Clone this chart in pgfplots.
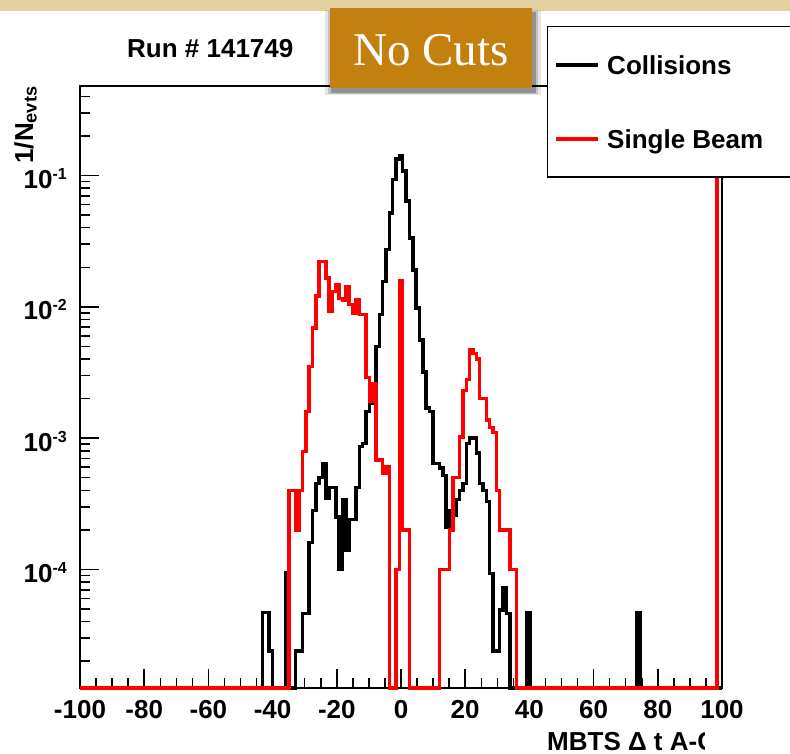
\documentclass[border=0pt]{standalone}
\usepackage{fontspec}
\setmainfont{Liberation Sans}
\newfontfamily\nocutsfont{Liberation Serif}
\usepackage{pgfplots}
\pgfplotsset{compat=1.18}
\usepackage{pgfplotstable}
\usetikzlibrary{shadows}

\definecolor{parch}{RGB}{226,208,160}
\definecolor{nocuts}{RGB}{196,128,14}
\newcommand{\rootfont}{\bfseries\fontsize{26}{28}\selectfont}
\newcommand{\expo}[1]{10\raisebox{9pt}{\fontsize{16}{16}\selectfont #1}}

% bin left edge, content (1.25e-5 = empty bin, drawn on the frame)
\pgfplotstableread{
x y
-100 1.25e-5
-43.21 4.7e-5
-42.17 4.7e-5
-41.13 2.4e-5
-40.08 1.25e-5
-35.92 9.5e-5
-34.88 1.25e-5
-32.79 2.4e-5
-31.75 2.4e-5
-30.71 4.6e-5
-29.67 4.6e-5
-28.63 1.6e-4
-27.58 2.8e-4
-26.54 4.5e-4
-25.50 5.0e-4
-24.46 6.4e-4
-23.42 3.5e-4
-22.38 4.2e-4
-21.33 4.2e-4
-20.29 2.5e-4
-19.25 1.0e-4
-18.21 3.4e-4
-17.17 1.4e-4
-16.13 2.4e-4
-15.08 2.4e-4
-14.04 4.2e-4
-13.00 8.6e-4
-11.96 9.1e-4
-10.92 1.6e-3
-9.88 1.85e-3
-8.83 2.6e-3
-7.79 5.0e-3
-6.75 8.7e-3
-5.71 1.56e-2
-4.67 2.72e-2
-3.63 5.2e-2
-2.58 9.3e-2
-1.54 0.134
-0.50 0.142
0.54 0.108
1.58 0.0637
2.63 0.0334
3.67 0.0191
4.71 0.0098
5.75 0.0056
6.79 0.0032
7.83 0.0017
8.88 0.0016
9.92 6.4e-4
10.96 6.4e-4
12.00 5.9e-4
13.04 5.2e-4
14.08 2.1e-4
15.13 2.8e-4
16.17 2.6e-4
17.21 3.4e-4
18.25 4.0e-4
19.29 4.5e-4
20.33 9.1e-4
21.38 1.0e-3
22.42 1.0e-3
23.46 7.7e-4
24.50 4.5e-4
25.54 4.0e-4
26.58 3.3e-4
27.63 9.3e-5
28.67 2.4e-5
29.71 2.4e-5
30.75 4.9e-5
31.79 7.3e-5
32.83 4.6e-5
33.88 1.25e-5
39.08 4.7e-5
40.13 1.25e-5
73.46 4.7e-5
74.50 1.25e-5
100 1.25e-5
}\collisions

\pgfplotstableread{
x y
-100 1.25e-5
-34.88 4.0e-4
-33.83 4.0e-4
-32.79 2.0e-4
-31.75 4.0e-4
-30.71 7.9e-4
-29.67 1.6e-3
-28.63 3.5e-3
-27.58 6.9e-3
-26.54 0.0121
-25.50 0.0222
-24.46 0.0222
-23.42 0.0166
-22.38 0.0092
-21.33 0.0131
-20.29 0.0147
-19.25 0.0116
-18.21 0.0113
-17.17 0.0143
-16.13 0.0104
-15.08 0.0090
-14.04 0.0113
-13.00 0.0087
-11.96 0.0087
-10.92 2.9e-3
-9.88 1.9e-3
-8.83 2.6e-3
-7.79 6.8e-4
-6.75 6.8e-4
-5.71 5.4e-4
-4.67 6.0e-4
-3.63 1.25e-5
-1.54 1.0e-4
-0.50 0.0159
0.54 2.0e-4
1.58 2.0e-4
2.63 1.25e-5
12.00 1.0e-4
13.04 1.0e-4
14.08 1.0e-4
15.13 2.0e-4
16.17 5.0e-4
17.21 5.0e-4
18.25 1.02e-3
19.29 2.3e-3
20.33 2.8e-3
21.38 4.7e-3
22.42 4.4e-3
23.46 4.0e-3
24.50 2.0e-3
25.54 2.0e-3
26.58 1.37e-3
27.63 1.2e-3
28.67 1.1e-3
29.71 4.0e-4
30.75 2.0e-4
31.79 2.0e-4
32.83 2.0e-4
33.88 1.0e-4
34.92 1.0e-4
35.96 1.25e-5
98.46 0.48
100 0.48
}\singlebeam

\begin{document}
\begin{tikzpicture}
\useasboundingbox (0pt,0pt) rectangle (790pt,-754pt);
\clip (0pt,0pt) rectangle (790pt,-754pt);
\fill[white] (0pt,0pt) rectangle (790pt,-754pt);
\fill[parch] (0pt,0pt) rectangle (790pt,-11pt);
\begin{axis}[
  at={(80pt,-688pt)}, anchor=south west,
  scale only axis, width=642pt, height=602pt,
  xmin=-100, xmax=100,
  ymode=log, ymin=1.25e-5, ymax=0.48,
  clip=false,
  axis line style={line width=1.5pt},
  xtick={-100,-80,...,100},
  xticklabels={-100,-80,-60,-40,-20,0,20,40,60,80,100},
  minor x tick num=3,
  ytick={1e-4,1e-3,1e-2,1e-1},
  yticklabels={\expo{-4},\expo{-3},\expo{-2},\expo{-1}},
  minor ytick={2e-5,3e-5,4e-5,5e-5,6e-5,7e-5,8e-5,9e-5,
               2e-4,3e-4,4e-4,5e-4,6e-4,7e-4,8e-4,9e-4,
               2e-3,3e-3,4e-3,5e-3,6e-3,7e-3,8e-3,9e-3,
               2e-2,3e-2,4e-2,5e-2,6e-2,7e-2,8e-2,9e-2,
               2e-1,3e-1,4e-1},
  xtick pos=left, ytick pos=left,
  tick align=inside,
  major tick length=19pt, minor tick length=10pt,
  every tick/.style={black, line width=1.5pt},
  tick label style={font=\rootfont, inner sep=0pt},
  xticklabel shift=12pt,
  yticklabel shift=13pt,
  yticklabel style={yshift=-3pt},
  title={Run \# 141749},
  title style={at={(axis description cs:0.0732,1.0382)}, anchor=base west, inner sep=0pt, font=\rootfont},
  xlabel={MBTS Δ t A-C},
  xlabel style={at={(axis description cs:0.7274,-0.1030)}, anchor=base west, inner sep=0pt, font=\rootfont},
  ylabel={1/N\textsubscript{evts}},
  ylabel style={at={(axis description cs:-0.0732,1)}, anchor=base east, inner sep=0pt, font=\rootfont},
  legend cell align=left,
  legend image code/.code={\draw[#1] (0pt,0pt) -- (42pt,0pt);},
  legend style={at={(axis description cs:0.7274,1.0997)}, anchor=north west,
    draw=black, line width=1.5pt, fill=white,
    inner xsep=7pt, inner ysep=25.5pt, row sep=48.6pt, column sep=7pt,
    font=\rootfont,
    nodes={inner sep=0pt, text height=22pt, text depth=3.4pt}},
]
\addplot[black, line width=3.5pt, const plot] table[x=x, y=y] {\collisions};
\addlegendentry{\makebox[260pt][l]{Collisions}}
\addplot[red, line width=3.5pt, const plot] table[x=x, y=y] {\singlebeam};
\addlegendentry{\makebox[260pt][l]{Single Beam}}
\end{axis}
\fill[white] (705pt,-722pt) rectangle (790pt,-754pt);
\node[fill=nocuts,
      general shadow={fill=black, opacity=0.10, shadow xshift=2pt, shadow yshift=-4pt, shadow scale=1.07},
      general shadow={fill=black, opacity=0.15, shadow xshift=2pt, shadow yshift=-4pt, shadow scale=1.04},
      general shadow={fill=black, opacity=0.25, shadow xshift=2pt, shadow yshift=-4pt, shadow scale=1.015},
      minimum width=202pt, minimum height=80pt, anchor=north west, inner sep=0pt] at (330pt,-8pt) {};
\node[anchor=base, text=white, inner sep=0pt, font=\nocutsfont\fontsize{47}{47}\selectfont] at (431pt,-66pt) {No Cuts};
\end{tikzpicture}
\end{document}
